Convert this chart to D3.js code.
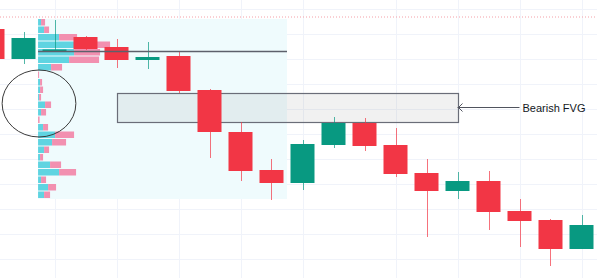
<!DOCTYPE html>
<html>
<head>
<meta charset="utf-8">
<script src="https://cdn.jsdelivr.net/npm/d3@7"></script>
<style>
  body { margin: 0; background: #fff; }
  svg { display: block; }
</style>
</head>
<body>
<svg class="chart" width="597" height="278"></svg>
<script>
// candles (index 0..19), prices
const opens  = [96, 90, 91.5, 94.4, 92.4, 89.8, 90.6, 83.8, 75.4, 67.8, 65.2, 72.8, 77.2, 72.8, 67.2, 63.6, 65.6, 59.6, 57.8, 52];
const highs  = [97, 95.4, 97.8, 94.6, 94, 93.4, 91.4, 84, 77.4, 70, 73.8, 78.4, 78.2, 76.2, 70, 67.4, 67.6, 62, 58, 58.8];
const lows   = [89, 89, 91.4, 91.8, 88.2, 88, 83.2, 70.2, 65.6, 61.8, 63.8, 72.2, 71.6, 66.4, 54.4, 62, 55.8, 52.4, 48.6, 52];
const closes = [90, 94.2, 91.9, 92, 89.8, 90.4, 83.6, 75.4, 67.6, 65.2, 73, 77.2, 72.6, 67, 63.6, 65.6, 59.4, 57.6, 52, 56.8];

// grid
const gridPrices = [100, 95, 90, 85, 80, 75, 70, 65, 60, 55, 50];
const gridBars = [2, 4, 6, 8, 10, 13, 15, 17, 19];

// volume profile rows (top price 98, 1.5 per row)
const profileTop = 98;
const rowStep = 1.5;
const upVol   = [3, 6, 21, 36, 36, 31, 13, 0, 2, 2, 1, 7, 3, 0, 5, 17, 14, 6, 2, 12, 21, 3, 10, 6];
const downVol = [4, 5, 18, 36, 26, 30, 11, 1, 2, 3, 2, 6, 5, 1.5, 5, 19, 14, 5, 3, 11, 17, 5, 8, 6];
const profileFrom = 1.47, profileTo = 9.5;
const pocPrice = 91.5;
const highLine = 98.4;

// annotation
const fvgFrom = 4, fvgTo = 15;
const labelText = "Bearish FVG";
const labelAt = 17;
const circleBars = [0.31, 2.69];
const circlePrices = [87.8, 74.4];

const candles = opens.map((o, i) => ({i: i, o: o, h: highs[i], l: lows[i], c: closes[i]}));

const svg = d3.select(".chart");
const width = +svg.attr("width");
const height = +svg.attr("height");

const x = d3.scaleLinear().domain([0, 19]).range([-7.5, 581.5]);
const y = d3.scaleLinear().domain([100, 50]).range([9, 259]);
const vol = d3.scaleLinear().domain([0, 10]).range([0, 10]);
const bw = 24;

const up = "#089981", down = "#f23645";

// grid lines
svg.append("g").selectAll("line")
  .data(gridPrices)
  .enter().append("line")
  .attr("x1", 0).attr("x2", width)
  .attr("y1", d => Math.round(y(d)) + 0.5)
  .attr("y2", d => Math.round(y(d)) + 0.5)
  .attr("stroke", "#f0f3fa");

svg.append("g").selectAll("line")
  .data(gridBars)
  .enter().append("line")
  .attr("y1", 0).attr("y2", height)
  .attr("x1", d => Math.round(x(d)) + 0.5)
  .attr("x2", d => Math.round(x(d)) + 0.5)
  .attr("stroke", "#f0f3fa");

// profile area
const nRows = upVol.length;
svg.append("rect")
  .attr("x", x(profileFrom))
  .attr("y", y(profileTop))
  .attr("width", x(profileTo) - x(profileFrom))
  .attr("height", y(profileTop - rowStep * nRows) - y(profileTop))
  .attr("fill", "#effbfd");

// high price line
svg.append("line")
  .attr("x1", 0).attr("x2", width)
  .attr("y1", y(highLine)).attr("y2", y(highLine))
  .attr("stroke", "#f4a0a8")
  .attr("stroke-dasharray", "1,2");

// FVG box from candle 6 low to candle 8 high (behind the candles)
const fvgTop = lows[6], fvgBottom = highs[8];
svg.append("rect")
  .attr("x", Math.round(x(fvgFrom)) + 0.5)
  .attr("y", Math.round(y(fvgTop)) + 0.5)
  .attr("width", Math.round(x(fvgTo) - x(fvgFrom)))
  .attr("height", Math.round(y(fvgBottom) - y(fvgTop)))
  .attr("fill", "rgba(120,120,120,0.1)")
  .attr("stroke", "#6a6d78")
  .attr("stroke-width", 1.2);

// profile bars
const rows = upVol.map((u, i) => ({top: profileTop - rowStep * i, u: u, d: downVol[i]}));
const pg = svg.append("g");
pg.selectAll(".upv")
  .data(rows)
  .enter().append("rect")
  .attr("class", "upv")
  .attr("x", x(profileFrom))
  .attr("y", d => y(d.top))
  .attr("width", d => vol(d.u))
  .attr("height", y(0) - y(rowStep) - 1)
  .attr("fill", "#5fd4e1");
pg.selectAll(".downv")
  .data(rows)
  .enter().append("rect")
  .attr("class", "downv")
  .attr("x", d => x(profileFrom) + vol(d.u))
  .attr("y", d => y(d.top))
  .attr("width", d => vol(d.d))
  .attr("height", y(0) - y(rowStep) - 1)
  .attr("fill", "#f290b0");

// candles
const cg = svg.append("g");
cg.selectAll(".wick")
  .data(candles)
  .enter().append("line")
  .attr("class", "wick")
  .attr("x1", d => Math.round(x(d.i)) + 0.5)
  .attr("x2", d => Math.round(x(d.i)) + 0.5)
  .attr("y1", d => y(d.h))
  .attr("y2", d => y(d.l))
  .attr("stroke", d => d.c >= d.o ? up : down)
  .attr("stroke-opacity", 0.7);

cg.selectAll(".body")
  .data(candles)
  .enter().append("rect")
  .attr("class", "body")
  .attr("x", d => x(d.i) - bw / 2)
  .attr("width", bw)
  .attr("y", d => y(Math.max(d.o, d.c)))
  .attr("height", d => Math.max(2, Math.abs(y(d.o) - y(d.c))))
  .attr("fill", d => d.c >= d.o ? up : down);

// POC line
svg.append("line")
  .attr("x1", x(profileFrom)).attr("x2", x(profileTo))
  .attr("y1", y(pocPrice)).attr("y2", y(pocPrice))
  .attr("stroke", "#5d606b")
  .attr("stroke-width", 1.5);

// arrow + label
const midP = (fvgTop + fvgBottom) / 2;
const ay = Math.round(y(midP)) + 0.5;
svg.append("line")
  .attr("x1", x(fvgTo)).attr("x2", x(labelAt))
  .attr("y1", ay).attr("y2", ay)
  .attr("stroke", "#50535e");
svg.append("path")
  .attr("d", `M${x(fvgTo) + 5},${ay - 4} L${x(fvgTo) + 1},${ay} L${x(fvgTo) + 5},${ay + 4}`)
  .attr("fill", "none")
  .attr("stroke", "#50535e");
svg.append("text")
  .attr("x", x(labelAt) + 3)
  .attr("y", ay + 4)
  .style("font-family", "'Liberation Sans', Arial, sans-serif")
  .style("font-size", "11px")
  .attr("fill", "#131722")
  .text(labelText);

// circled area
svg.append("ellipse")
  .attr("cx", (x(circleBars[0]) + x(circleBars[1])) / 2)
  .attr("cy", (y(circlePrices[0]) + y(circlePrices[1])) / 2)
  .attr("rx", (x(circleBars[1]) - x(circleBars[0])) / 2)
  .attr("ry", (y(circlePrices[1]) - y(circlePrices[0])) / 2)
  .attr("fill", "none")
  .attr("stroke", "#3a3a3a")
  .attr("stroke-width", 1);
</script>
</body>
</html>
